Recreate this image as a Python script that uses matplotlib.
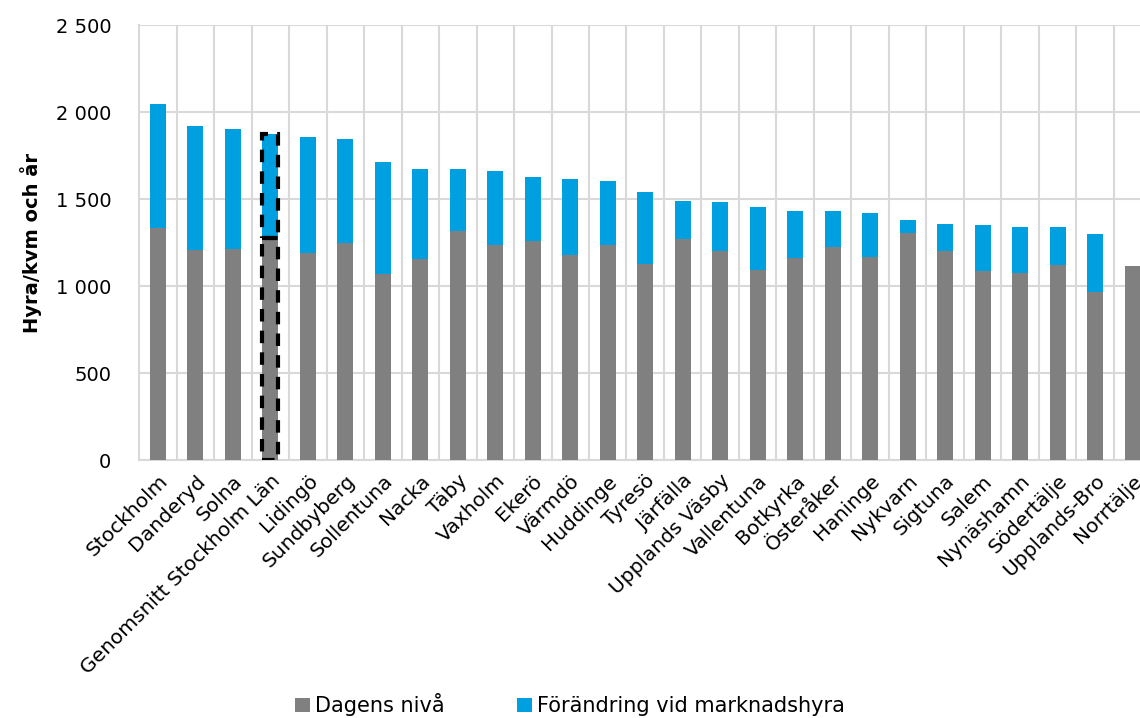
import numpy as np
import matplotlib.pyplot as plt
from matplotlib.ticker import FuncFormatter, MultipleLocator

plt.rcParams['font.family'] = ['DejaVu Sans']

kommuner = ["Stockholm", "Danderyd", "Solna", "Genomsnitt Stockholm Län", "Lidingö",
            "Sundbyberg", "Sollentuna", "Nacka", "Täby", "Vaxholm", "Ekerö", "Värmdö",
            "Huddinge", "Tyresö", "Järfälla", "Upplands Väsby", "Vallentuna", "Botkyrka",
            "Österåker", "Haninge", "Nykvarn", "Sigtuna", "Salem", "Nynäshamn",
            "Södertälje", "Upplands-Bro", "Norrtälje"]

# dagens hyresnivå (kr/kvm och år)
dagens = np.array([1333, 1207, 1213, 1276, 1190, 1247, 1069, 1155, 1316, 1236, 1259, 1178,
                   1236, 1126, 1270, 1201, 1092, 1161, 1224, 1167, 1305, 1201, 1086, 1075,
                   1121, 965, 1115])
# total hyra vid marknadshyra
marknad = np.array([2046, 1919, 1902, 1875, 1856, 1845, 1713, 1672, 1672, 1661, 1626, 1615,
                    1603, 1540, 1488, 1483, 1454, 1431, 1431, 1419, 1379, 1356, 1351, 1339,
                    1339, 1299, 1107])
forandring = marknad - dagens

GRAY = "#808080"
BLUE = "#009FDF"

fig = plt.figure(figsize=(11.4, 7.18), dpi=100)
ax = fig.add_axes([0.122, 0.359, 0.888, 0.606])

x = np.arange(len(kommuner))
w = 0.42
snitt = kommuner.index("Genomsnitt Stockholm Län")

ax.bar(x, dagens, w, color=GRAY, label="Dagens nivå", zorder=3)
bottom = np.where(forandring >= 0, dagens, 0)
ax.bar(x, forandring, w, bottom=bottom, color=BLUE,
       label="Förändring vid marknadshyra", zorder=3)

# streckad ram runt länsgenomsnittet
for b, h in [(0, dagens[snitt]), (dagens[snitt], forandring[snitt])]:
    ax.bar(snitt, h, w, bottom=b, fill=False, edgecolor="black",
           linestyle=(0, (3, 2.2)), linewidth=3, zorder=4)

ax.set_xlim(-0.5, len(kommuner) - 0.5)
ax.set_ylim(0, 2500)
ax.yaxis.set_major_locator(MultipleLocator(500))
ax.yaxis.set_major_formatter(FuncFormatter(lambda v, p: f"{int(v):,}".replace(",", " ")))

ax.set_xticks(x)
ax.set_xticklabels(kommuner, rotation=45, ha="right", rotation_mode="anchor", fontsize=14.5)
ax.set_xticks(x[:-1] + 0.5, minor=True)
ax.tick_params(axis="x", which="both", length=0, pad=8)
ax.tick_params(axis="y", length=0, labelsize=14, pad=20)

ax.grid(axis="y", which="major", color="#d9d9d9", linewidth=1.5, zorder=0)
ax.grid(axis="x", which="minor", color="#d9d9d9", linewidth=1.5, zorder=0)
for s in ["top", "right"]:
    ax.spines[s].set_visible(False)
ax.spines["left"].set_color("#d9d9d9")
ax.spines["left"].set_linewidth(1.5)
ax.spines["bottom"].set_color("#d9d9d9")
ax.spines["bottom"].set_linewidth(1.5)

ax.set_ylabel("Hyra/kvm och år", fontsize=14, fontweight="bold", labelpad=10)

fig.legend(loc="lower center", bbox_to_anchor=(0.5, -0.024), ncol=2, frameon=False,
           fontsize=15, handlelength=0.7, handleheight=0.7, handletextpad=0.25,
           columnspacing=3.5)

fig.savefig("out.png", dpi=100)
